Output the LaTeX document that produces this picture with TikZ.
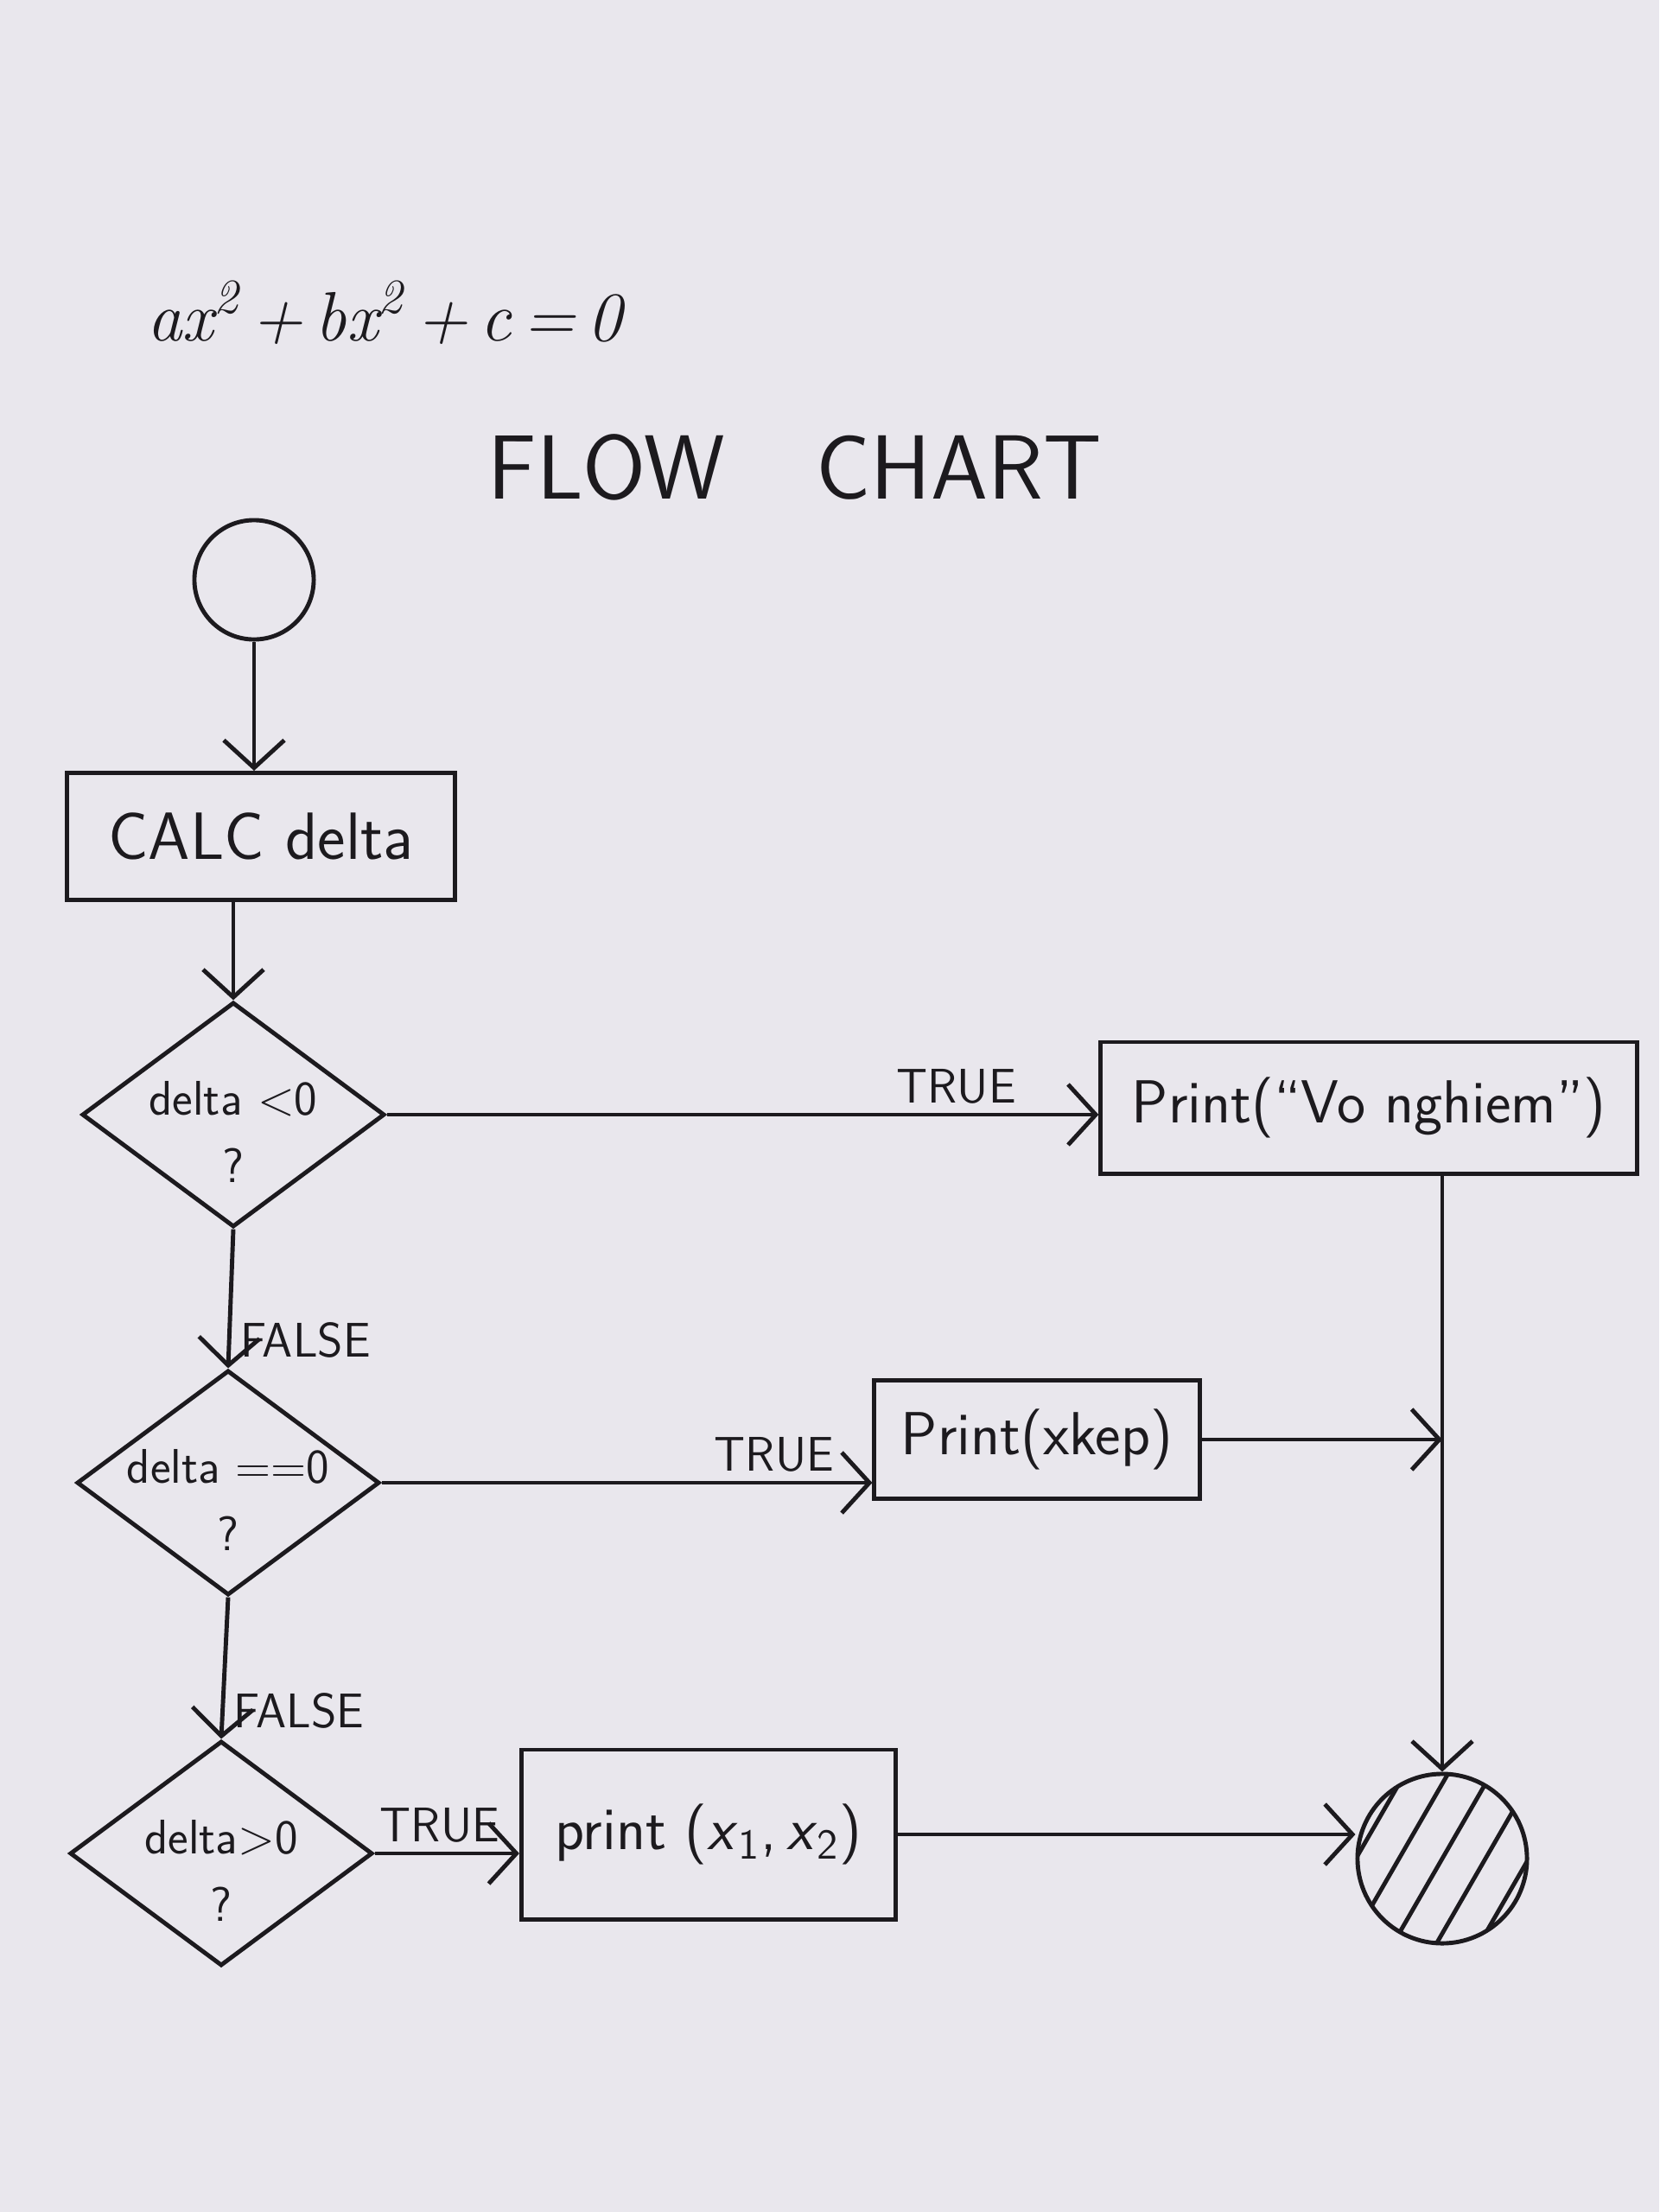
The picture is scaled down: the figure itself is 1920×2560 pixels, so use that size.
\documentclass[tikz,border=0pt]{standalone}
\usepackage{fontspec}
\usetikzlibrary{shapes.geometric,arrows.meta}
\definecolor{papel}{RGB}{233,231,237}
\definecolor{tinta}{RGB}{28,26,30}
\tikzset{
  trazo/.style={draw=tinta, line width=1.4pt},
  flecha/.style={trazo, -{Straight Barb[length=3.2mm,width=7mm]}},
  caja/.style={trazo, rectangle, inner sep=0pt, text=tinta, font=\sffamily\fontsize{20}{24}\selectfont},
  rombo/.style={trazo, diamond, minimum width=3.5cm, minimum height=2.6cm, inner sep=0pt},
  texto/.style={font=\sffamily\fontsize{19}{28}\selectfont, align=center, text=tinta},
  pregunta/.style={font=\sffamily\fontsize{16}{22}\selectfont, align=center, text=tinta, inner sep=0pt, yshift=-0.2cm},
  etiqueta/.style={font=\sffamily\fontsize{16}{18}\selectfont, text=tinta, inner sep=3pt},
}
\begin{document}
\begin{tikzpicture}[x=0.01cm, y=-0.01cm]
    % Fondo del papel
    \fill[papel] (0,0) rectangle (1920,2560);
    \useasboundingbox (0,0) rectangle (1920,2560);

    % Ecuacion y titulo
    \node[texto, font=\fontsize{23}{28}\selectfont] (ecuacion) at (445,362)
        {\itshape ax\textsuperscript{2}\,+\,bx\textsuperscript{2}\,+\,c\,=\,0};
    \node[texto, font=\sffamily\fontsize{30}{36}\selectfont] (titulo) at (920,541) {FLOW\quad CHART};

    % Inicio y fin
    \node[trazo, circle, minimum size=1.38cm] (inicio) at (294,671) {};
    \node[trazo, circle, minimum size=1.96cm] (fin) at (1669,2151) {};
    \begin{scope}
        \clip (fin.center) circle (0.98cm);
        \foreach \d in {-100,-50,...,100}
            \draw[trazo, shift={(fin.center)}] (\d-60,104) -- (\d+60,-104);
    \end{scope}

    % Cajas de proceso
    \node[caja, minimum width=4.49cm, minimum height=1.47cm, font=\sffamily\fontsize{22}{26}\selectfont] (calc) at (302,968) {CALC delta};
    \node[caja, minimum width=6.2cm, minimum height=1.52cm] (vo) at (1584,1282) {Print(``Vo nghiem'')};
    \node[caja, minimum width=3.76cm, minimum height=1.37cm] (xkep) at (1200,1666) {Print(xkep)};
    \node[caja, minimum width=4.33cm, minimum height=1.96cm] (raices) at (820,2123)
        {print (\textit{x}\textsubscript{1},\,\textit{x}\textsubscript{2})};

    % Rombos de decision
    \node[rombo, label={[pregunta]center:delta <0\\?}] (d1) at (270,1290) {};
    \node[rombo, label={[pregunta]center:delta ==0\\?}] (d2) at (264,1716) {};
    \node[rombo, label={[pregunta]center:delta>0\\?}] (d3) at (256,2145) {};

    % Conectores
    \draw[flecha] (inicio) -- (inicio |- calc.north);
    \draw[flecha] (calc.south -| d1) -- (d1.north);
    \draw[flecha] (d1.east) -- node[etiqueta, above, pos=0.8] {TRUE} (d1.east -| vo.west);
    \draw[flecha] (d1.south) -- node[etiqueta, right, pos=0.8] {FALSE} (d2.north);
    \draw[flecha] (d2.east) -- node[etiqueta, above, pos=0.8] {TRUE} (d2.east -| xkep.west);
    \draw[flecha] (d2.south) -- node[etiqueta, right, pos=0.8] {FALSE} (d3.north);
    \draw[flecha] (d3.east) -- node[etiqueta, above, pos=0.45] {TRUE} (d3.east -| raices.west);
    \draw[flecha] (vo.south -| fin) -- (fin.north);
    \draw[flecha] (xkep.east) -- (xkep.east -| fin);
    \draw[flecha] (raices.east) -- (raices.east -| fin.west);
\end{tikzpicture}
\end{document}
